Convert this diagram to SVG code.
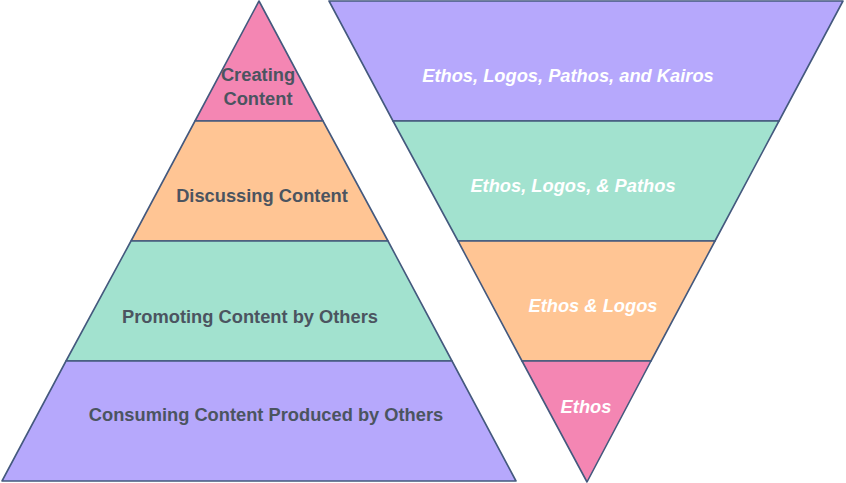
<svg xmlns="http://www.w3.org/2000/svg" width="846" height="483" viewBox="0 0 846 483">
<style>
.s{stroke:#44597e;stroke-width:1.6;stroke-linejoin:round}
.pk{fill:#f486b3}.or{fill:#ffc594}.tl{fill:#a2e2cf}.pu{fill:#b6a8fc}
.l{font-family:"Liberation Sans",Arial,sans-serif;font-size:18.3px;font-weight:bold;fill:#4b5460;text-anchor:middle}
.r{font-family:"Liberation Sans",Arial,sans-serif;font-size:18.3px;font-weight:bold;font-style:italic;fill:#ffffff;text-anchor:middle}
</style>
<rect width="846" height="483" fill="#ffffff"/>
<g id="left-pyramid">
<g id="creating"><polygon class="s pk" points="259,1 323,121 195,121"/><text class="l" x="258" y="81">Creating</text><text class="l" x="258" y="105">Content</text></g>
<g id="discussing"><polygon class="s or" points="195,121 323,121 388,241 131,241"/><text class="l" x="262" y="202">Discussing Content</text></g>
<g id="promoting"><polygon class="s tl" points="131,241 388,241 452,361 66,361"/><text class="l" x="250" y="323">Promoting Content by Others</text></g>
<g id="consuming"><polygon class="s pu" points="66,361 452,361 516,481 2,481"/><text class="l" x="266" y="421">Consuming Content Produced by Others</text></g>
</g>
<g id="right-pyramid">
<g id="ethos-logos-pathos-kairos"><polygon class="s pu" points="329,1 843,1 779,121 393,121"/><text class="r" x="568" y="82">Ethos, Logos, Pathos, and Kairos</text></g>
<g id="ethos-logos-pathos"><polygon class="s tl" points="393,121 779,121 715,241 458,241"/><text class="r" x="573" y="192">Ethos, Logos, &amp; Pathos</text></g>
<g id="ethos-logos"><polygon class="s or" points="458,241 715,241 651,361 522,361"/><text class="r" x="593" y="312">Ethos &amp; Logos</text></g>
<g id="ethos"><polygon class="s pk" points="522,361 651,361 587,482"/><text class="r" x="586" y="413">Ethos</text></g>
</g>
<g id="connectors"/>
</svg>
